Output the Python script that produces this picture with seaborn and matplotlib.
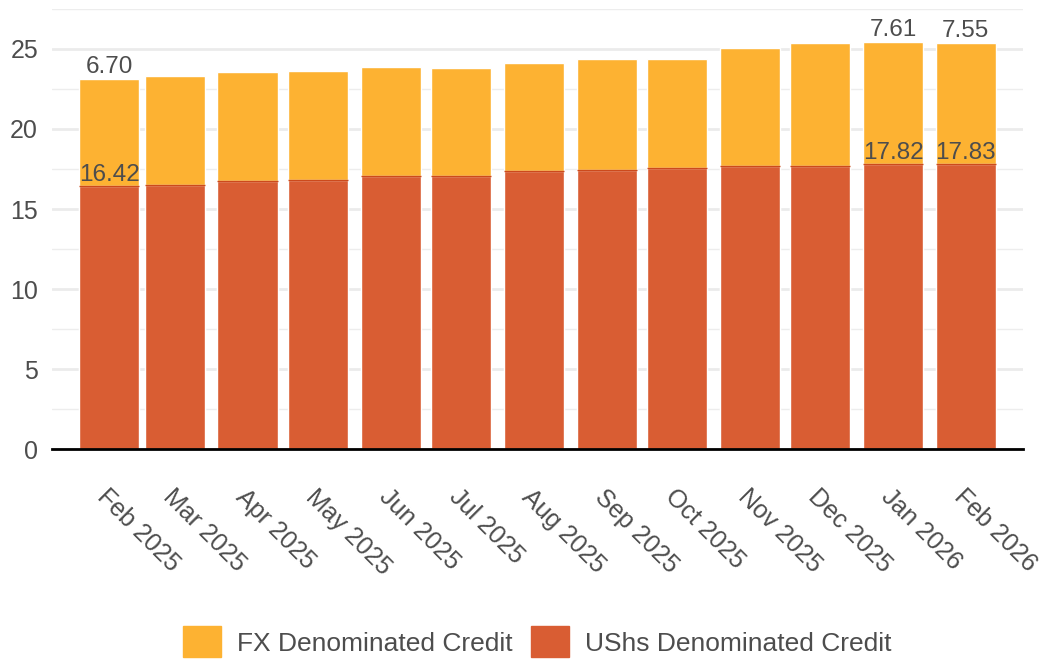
import numpy as np
import pandas as pd
import matplotlib
matplotlib.use('Agg')
import matplotlib.pyplot as plt
import matplotlib.transforms as mtransforms
import seaborn as sns

# Monthly credit stock (trillions UShs)
months = ["2025-02", "2025-03", "2025-04", "2025-05", "2025-06", "2025-07", "2025-08",
          "2025-09", "2025-10", "2025-11", "2025-12", "2026-01", "2026-02"]
ushs_credit = [16.42, 16.52, 16.75, 16.82, 17.07, 17.06, 17.39,
               17.45, 17.57, 17.70, 17.70, 17.82, 17.83]
fx_credit = [6.70, 6.78, 6.81, 6.78, 6.83, 6.74, 6.71,
             6.90, 6.78, 7.36, 7.67, 7.61, 7.55]
# bars that carry value labels
labelled = [0, 11, 12]

FX_COLOR = "#FDB232"
USHS_COLOR = "#D95D33"
TEXT_COLOR = "#4D4D4D"

dates = pd.to_datetime(months)
origin = dates[0]
days = np.array([(d - origin).days for d in dates], dtype=float)
tick_labels = [d.strftime("%b %Y") for d in dates]

df = pd.DataFrame({
    "day": days,
    "ushs": ushs_credit,
    "fx": fx_credit,
})
df["total"] = df["ushs"] + df["fx"]

sns.set_theme(style="white")
plt.rcParams['font.family'] = ['Liberation Sans', 'DejaVu Sans']

fig = plt.figure(figsize=(10.48, 6.61), dpi=100)
ax = fig.add_axes([0.0496, 0.3207, 0.9264, 0.6657])

# stacked bars: total first (FX colour), then UShs portion on top of it
sns.barplot(data=df, x="day", y="total", native_scale=True, width=0.914,
            color=FX_COLOR, saturation=1, ax=ax, zorder=2)
sns.barplot(data=df, x="day", y="ushs", native_scale=True, width=0.914,
            color=USHS_COLOR, saturation=1, ax=ax, zorder=3)
# thin darker rim on top of the UShs segment
for d, v in zip(days, ushs_credit):
    ax.plot([d - 0.457 * 28, d + 0.457 * 28], [v, v], color="#CC4A1C",
            linewidth=1, zorder=4, solid_capstyle="butt")

ax.set_xlim(-24.3, 389.3)
ax.set_ylim(0, 27.5)

# grid
ax.set_yticks([0, 5, 10, 15, 20, 25])
ax.set_yticks(np.arange(2.5, 27.6, 5), minor=True)
ax.grid(axis="y", which="major", color="#EBEBEB", linewidth=2, zorder=0)
ax.grid(axis="y", which="minor", color="#EDEDED", linewidth=1, zorder=0)
ax.set_axisbelow(True)
ax.tick_params(axis="y", which="both", length=0, labelsize=18,
               labelcolor=TEXT_COLOR, pad=10)

for side in ["left", "right", "top"]:
    ax.spines[side].set_visible(False)
ax.spines["bottom"].set_color("black")
ax.spines["bottom"].set_linewidth(2)
ax.spines["bottom"].set_zorder(5)

ax.set_xticks(days)
ax.set_xticklabels(tick_labels, rotation=-45, ha="left", va="center",
                   rotation_mode="anchor", fontsize=18, color=TEXT_COLOR)
ax.tick_params(axis="x", length=0, pad=32)
shift = mtransforms.ScaledTranslation(-8 / 100, 0, fig.dpi_scale_trans)
for lbl in ax.get_xticklabels():
    lbl.set_transform(lbl.get_transform() + shift)
ax.set_xlabel("")
ax.set_ylabel("")

# value labels
for i in labelled:
    ax.annotate(f"{fx_credit[i]:.2f}", (days[i], df["total"][i]),
                xytext=(0, 1), textcoords="offset points",
                ha="center", va="bottom", fontsize=17.5, color=TEXT_COLOR, zorder=6)
    ax.annotate(f"{ushs_credit[i]:.2f}", (days[i], ushs_credit[i]),
                xytext=(0, 0), textcoords="offset points",
                ha="center", va="bottom", fontsize=17.5, color=TEXT_COLOR, zorder=6)

handles = [plt.Rectangle((0, 0), 1, 1, color=FX_COLOR),
           plt.Rectangle((0, 0), 1, 1, color=USHS_COLOR)]
fig.legend(handles, ["FX Denominated Credit", "UShs Denominated Credit"],
           loc="center", bbox_to_anchor=(0.513, 0.029), ncol=2, frameon=False,
           fontsize=19, labelcolor=TEXT_COLOR, handlelength=1.44, handleheight=1.44,
           handletextpad=0.6, columnspacing=0.7)

fig.savefig("out.png", dpi=100)
